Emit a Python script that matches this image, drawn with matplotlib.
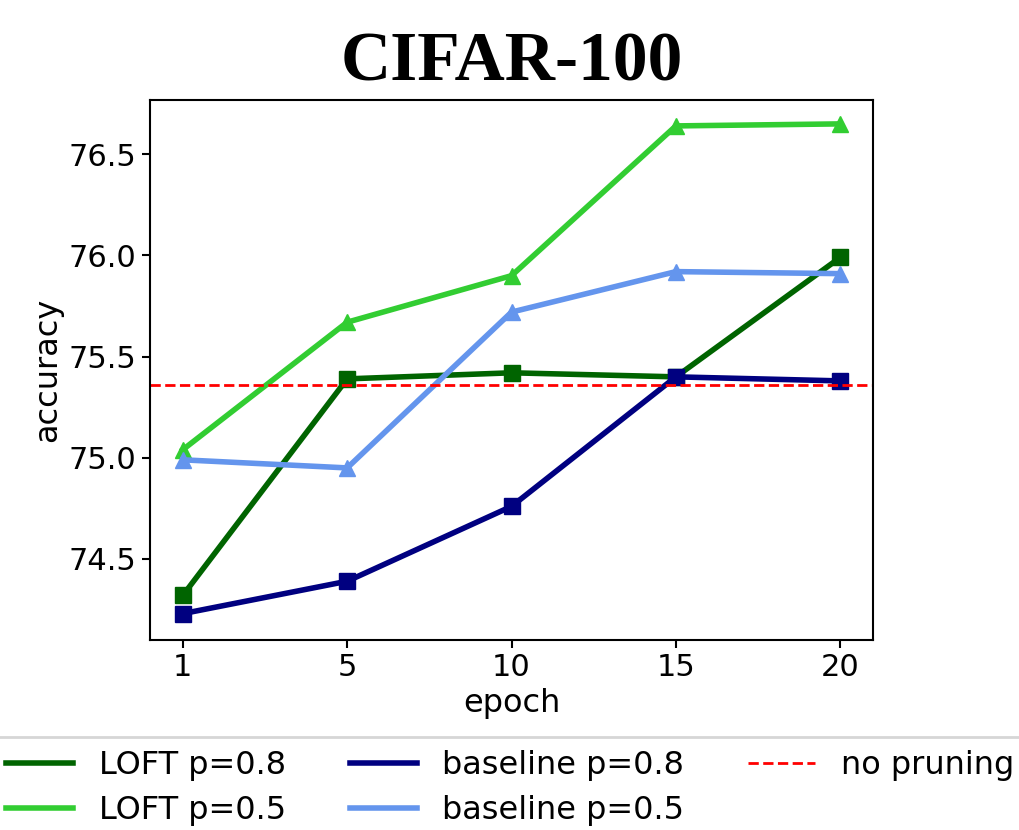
import numpy as np
import matplotlib
matplotlib.use("Agg")
import matplotlib.pyplot as plt
from matplotlib.lines import Line2D

# data
epochs = ["1", "5", "10", "15", "20"]
loft_08 = [74.32, 75.39, 75.42, 75.40, 75.99]
loft_05 = [75.04, 75.67, 75.90, 76.64, 76.65]
base_08 = [74.23, 74.39, 74.76, 75.40, 75.38]
base_05 = [74.99, 74.95, 75.72, 75.92, 75.91]
no_pruning = 75.36

plt.rcParams['font.family'] = 'DejaVu Sans'
fig = plt.figure(figsize=(10.2, 8.3), dpi=100)
ax = fig.add_axes([0.147, 0.229, 0.709, 0.651])

x = np.arange(len(epochs))
lw = 4
series = [
    (loft_08, "darkgreen", "s", "LOFT p=0.8"),
    (loft_05, "limegreen", "^", "LOFT p=0.5"),
    (base_08, "navy", "s", "baseline p=0.8"),
    (base_05, "cornflowerblue", "^", "baseline p=0.5"),
]
for vals, col, mk, lab in series:
    ax.plot(x, vals, color=col, lw=lw, marker=mk, markersize=11)
ax.axhline(no_pruning, color="red", linestyle="--", lw=2)

ax.set_xticks(x)
ax.set_xticklabels(epochs)
ax.set_xlim(-0.2, 4.2)
ax.set_ylim(74.1, 76.77)
ax.set_yticks([74.5, 75.0, 75.5, 76.0, 76.5])
ax.tick_params(labelsize=22, width=1.5, length=6)
for s in ax.spines.values():
    s.set_linewidth(1.5)
ax.set_xlabel("epoch", fontsize=23, labelpad=4)
ax.set_ylabel("accuracy", fontsize=23)
ax.set_title("CIFAR-100", fontsize=50, fontweight="bold",
             family="Liberation Serif", pad=14)

# legend handles without markers
handles = [Line2D([], [], color=col, lw=lw) for _, col, _, _ in series]
labels = [lab for _, _, _, lab in series]
handles.append(Line2D([], [], color="red", linestyle="--", lw=2))
labels.append("no pruning")
leg = fig.legend(handles, labels, loc="upper center", ncol=3,
                 bbox_to_anchor=(0.5, 0.112), fontsize=23, handlelength=2.1,
                 columnspacing=2.0, frameon=True, borderaxespad=0,
                 labelspacing=0.45, bbox_transform=fig.transFigure)
leg.get_frame().set_edgecolor("#cccccc")
leg.get_frame().set_linewidth(2)

fig.savefig("out.png", dpi=100)
